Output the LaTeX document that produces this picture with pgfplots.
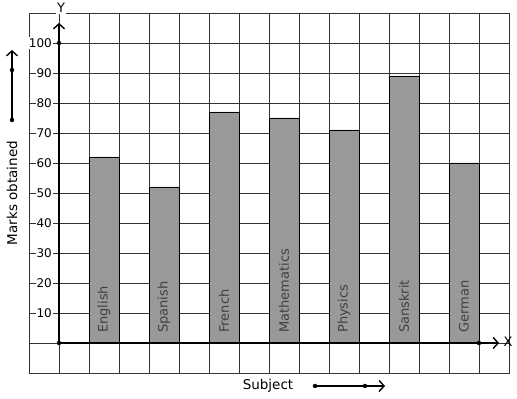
\documentclass[border=0pt]{standalone}
\usepackage{fontspec}
\setmainfont{DejaVu Sans}
\usepackage{pgfplots}
\pgfplotsset{compat=1.18}
\usetikzlibrary{arrows.meta}
\begin{document}
\fontsize{13}{15}\selectfont
\begin{tikzpicture}
\begin{axis}[
  x=30pt, y=3pt,
  xmin=-1, xmax=15, ymin=-10, ymax=110,
  axis line style={draw=black!80, line width=0.9pt},
  xtick={1.5,3.5,5.5,7.5,9.5,11.5,13.5},
  xticklabels={},
  minor xtick={-1,0,...,15},
  xminorgrids=true, xmajorgrids=false,
  ytick={10,20,...,100},
  minor ytick={-10,0,...,110},
  yminorgrids=true, ymajorgrids=false,
  minor grid style={draw=black!80, line width=0.9pt},
  major tick length=0pt, minor tick length=0pt,
  yticklabel style={anchor=east, fill=white, inner sep=1pt, font=\fontsize{12}{14}\selectfont},
  yticklabel shift=-24pt,
  /pgf/number format/assume math mode=true,
  clip=false,
]
\addplot[ybar, bar width=30pt, fill=black!40, draw=black, line width=0.9pt]
  coordinates {(1.5,62) (3.5,52) (5.5,77) (7.5,75) (9.5,71) (11.5,89) (13.5,60)};
\addplot[only marks, mark=none, nodes near coords, point meta=explicit symbolic,
  nodes near coords style={rotate=90, anchor=west, inner sep=0pt, xshift=10pt,
    text=black!75, font=\fontsize{13}{15}\selectfont}]
  table[meta=label] {
x y label
1.5 0 English
3.5 0 Spanish
5.5 0 French
7.5 0 Mathematics
9.5 0 Physics
11.5 0 Sanskrit
13.5 0 German
};
\draw[line width=2.2pt, -{Straight Barb[length=5pt, width=11pt, line width=1.4pt]}] (axis cs:0,0) -- (axis cs:0,106.7);
\draw[line width=2.2pt, -{Straight Barb[length=5pt, width=11pt, line width=1.4pt]}] (axis cs:0,0) -- (axis cs:14.67,0);
\draw[line width=2pt, -{Straight Barb[length=5pt, width=11pt, line width=1.4pt]}] (axis cs:-1.567,74.33) -- (axis cs:-1.567,97.67);
\draw[line width=1.6pt, -{Straight Barb[length=5pt, width=11pt, line width=1.4pt]}] (axis cs:8.533,-14.33) -- (axis cs:10.867,-14.33);
\addplot[only marks, mark=*, mark size=2pt, black]
  coordinates {(0,0) (0,100) (14,0) (-1.567,74.33) (-1.567,91) (8.533,-14.33) (10.2,-14.33)};
\node[fill=white, inner sep=1pt, font=\fontsize{13}{15}\selectfont] at (axis cs:0.067,111.67) {Y};
\node[font=\fontsize{13}{15}\selectfont] at (axis cs:14.967,0.33) {X};
\node[font=\fontsize{13.5}{15}\selectfont] at (axis cs:6.967,-14.33) {Subject};
\node[rotate=90, font=\fontsize{13.5}{15}\selectfont] at (axis cs:-1.567,50) {Marks obtained};
\path (axis cs:-1.9667,-18.667) rectangle (axis cs:15.2667,114.333);
\end{axis}
\end{tikzpicture}
\end{document}
